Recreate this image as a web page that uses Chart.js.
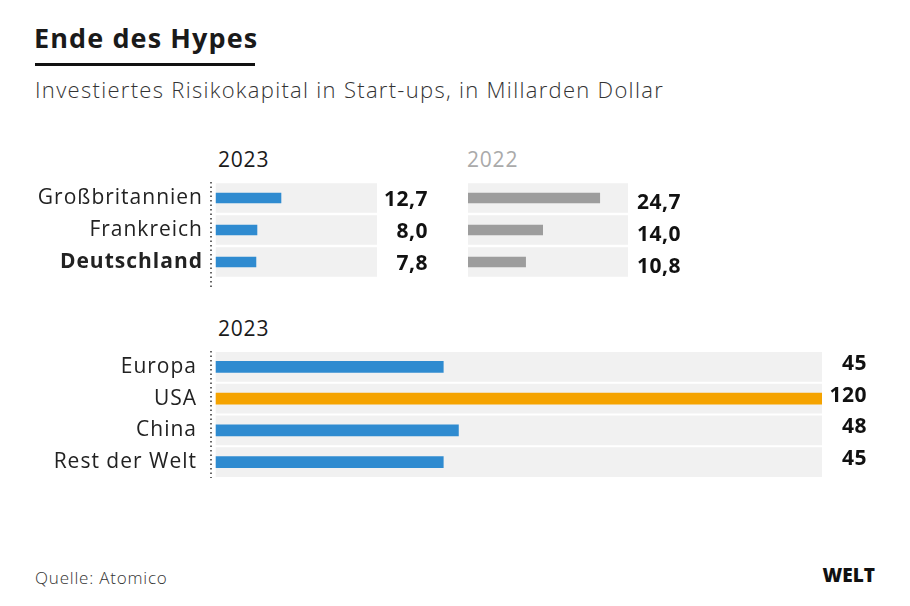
<!DOCTYPE html>
<html lang="de">
<head>
<meta charset="utf-8">
<script src="https://cdn.jsdelivr.net/npm/chart.js@4"></script>
<style>
  html, body { margin: 0; padding: 0; background: #fff; }
  body { width: 910px; height: 606px; position: relative; overflow: hidden; font-family: "Open Sans", sans-serif; color: #1a1a1a; }
  .txt { position: absolute; line-height: 1; white-space: nowrap; }
  .box { position: absolute; }
</style>
</head>
<body>
  <div class="txt" style="left:34px; top:24px; font-size:27px; font-weight:700; letter-spacing:1.1px;">Ende des Hypes</div>
  <div style="position:absolute; left:35px; top:63px; width:220px; height:3px; background:#111;"></div>
  <div class="txt" style="left:35px; top:78px; font-size:22px; font-weight:300; letter-spacing:1.3px; color:#333;">Investiertes Risikokapital in Start-ups, in Millarden Dollar</div>

  <div class="txt" style="left:218px; top:149px; font-size:21px; letter-spacing:0.8px;">2023</div>
  <div class="txt" style="left:467px; top:149px; font-size:21px; letter-spacing:0.8px; color:#aaa;">2022</div>
  <div class="txt" style="left:218px; top:318px; font-size:21px; letter-spacing:0.8px;">2023</div>

  <div class="txt" style="left:35px; top:569px; font-size:17px; font-weight:300; letter-spacing:0.8px; color:#333;">Quelle: Atomico</div>
  <div class="txt" style="right:35px; top:566px; font-size:19px; font-weight:800; color:#111;">WELT</div>

  <div class="box" style="left:0; top:170px; width:460px; height:130px;"><canvas id="chartLeft"></canvas></div>
  <div class="box" style="left:460px; top:170px; width:250px; height:130px;"><canvas id="chartRight"></canvas></div>
  <div class="box" style="left:0; top:340px; width:910px; height:150px;"><canvas id="chartBottom"></canvas></div>

<script>
// Daten
const countries = ["Großbritannien", "Frankreich", "Deutschland"];
const values2023 = [12.7, 8.0, 7.8];
const values2022 = [24.7, 14.0, 10.8];

const regions = ["Europa", "USA", "China", "Rest der Welt"];
const regionValues = [45, 120, 48, 45];

const BLUE = "#2f8bd0";
const ORANGE = "#f5a300";
const GREY = "#9d9d9d";
const TRACK = "#f1f1f1";
const FONT = "'Open Sans', sans-serif";

// etwas Sperrung fuer die Achsenbeschriftung
const spacing = {
  id: "spacing",
  beforeDraw(chart) {
    chart.ctx.letterSpacing = "1px";
  }
};

// zahlen rechts neben dem grauen Band
const valueLabels = {
  id: "valueLabels",
  afterDatasetsDraw(chart, args, opts) {
    const ctx = chart.ctx;
    const data = chart.data.datasets[0].data;
    const meta = chart.getDatasetMeta(0);
    ctx.save();
    ctx.letterSpacing = "0.5px";
    ctx.font = "bold 21px " + FONT;
    ctx.fillStyle = "#111";
    ctx.textAlign = "right";
    ctx.textBaseline = "middle";
    data.forEach((v, i) => {
      const txt = v.toFixed(opts.decimals).replace(".", ",");
      ctx.fillText(txt, chart.chartArea.right + opts.offset, meta.data[i].y + opts.dy);
    });
    ctx.restore();
  }
};

// gepunktete Achse links
const dottedAxis = {
  id: "dottedAxis",
  afterDraw(chart, args, opts) {
    if (!opts.show) return;
    const ctx = chart.ctx;
    const a = chart.chartArea;
    ctx.save();
    ctx.strokeStyle = "#333";
    ctx.lineWidth = 1.5;
    ctx.setLineDash([1.5, 3]);
    ctx.beginPath();
    ctx.moveTo(a.left, a.top + opts.top);
    ctx.lineTo(a.left, a.bottom + opts.bottom);
    ctx.stroke();
    ctx.restore();
  }
};

function makeChart(id, labels, values, colors, cfg) {
  return new Chart(document.getElementById(id), {
    type: "bar",
    data: {
      labels: labels,
      datasets: [
        {
          data: values,
          backgroundColor: colors,
          barThickness: cfg.bar,
          order: 0
        },
        {
          data: labels.map(() => cfg.max),
          backgroundColor: TRACK,
          barThickness: cfg.track,
          order: 1
        }
      ]
    },
    options: {
      indexAxis: "y",
      responsive: true,
      maintainAspectRatio: false,
      animation: false,
      layout: { padding: cfg.padding },
      scales: {
        x: { display: false, min: cfg.min, max: cfg.max, stacked: false },
        y: {
          display: cfg.showLabels,
          stacked: true,
          grid: { display: false, drawTicks: false },
          border: { display: false },
          afterFit: (s) => {
            s.width = cfg.axisWidth;
            s.paddingTop = 0;
            s.paddingBottom = 0;
          },
          ticks: {
            padding: cfg.tickPad,
            color: "#222",
            font: (c) => ({
              family: FONT,
              size: 21,
              weight: c.tick && c.tick.label === "Deutschland" ? "bold" : "normal"
            })
          }
        }
      },
      plugins: {
        legend: { display: false },
        tooltip: { enabled: false },
        valueLabels: cfg.labels,
        dottedAxis: cfg.axis
      }
    },
    plugins: [spacing, valueLabels, dottedAxis]
  });
}

makeChart("chartLeft", countries, values2023, BLUE, {
  bar: 10, track: 29, min: -1, max: 31.5,
  padding: { top: 12, bottom: 22, left: 0, right: 83 },
  showLabels: true, axisWidth: 211, tickPad: 8,
  labels: { offset: 51, dy: 2, decimals: 1 },
  axis: { show: true, top: 0, bottom: 12 }
});

makeChart("chartRight", countries, values2022, GREY, {
  bar: 10, track: 29, min: 0, max: 30,
  padding: { top: 12, bottom: 22, left: 8, right: 82 },
  showLabels: false, axisWidth: 0, tickPad: 0,
  labels: { offset: 53, dy: 5, decimals: 1 },
  axis: { show: false }
});

makeChart("chartBottom", regions, regionValues, regions.map((r) => (r === "USA" ? ORANGE : BLUE)), {
  bar: 11, track: 29, min: -1, max: 120,
  padding: { top: 11, bottom: 12, left: 0, right: 88 },
  showLabels: true, axisWidth: 211, tickPad: 14,
  labels: { offset: 45, dy: -3, decimals: 0 },
  axis: { show: true, top: 0, bottom: 0 }
});
</script>
</body>
</html>
